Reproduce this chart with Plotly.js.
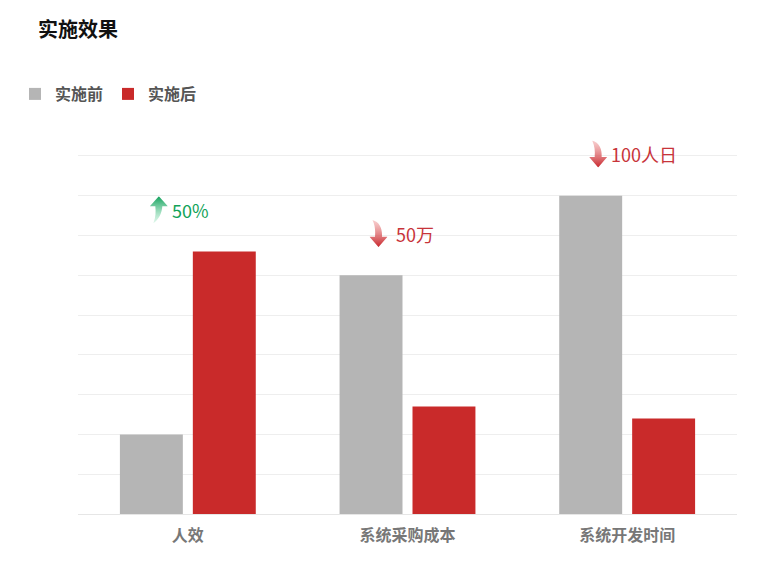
<!DOCTYPE html>
<html>
<head>
<meta charset="utf-8">
<script src="https://cdn.plot.ly/plotly-3.0.1.min.js"></script>
<style>
  html, body { margin: 0; padding: 0; background: #fff; }
  #chart { width: 776px; height: 566px; }
</style>
</head>
<body>
<div id="chart"></div>
<script>
// chart data
const categories = ["人效", "系统采购成本", "系统开发时间"];
const beforeValues = [2, 6, 8];
const afterValues = [6.6, 2.7, 2.4];
const changeLabels = ["50%", "\u00a050万", "100人日"];
const changeUp = [true, false, false];

const FONT = "'Noto Sans CJK SC', 'Microsoft YaHei', sans-serif";
const GREEN = "#12a35a";
const RED = "#c8343a";

const plotLeft = 78, plotRight = 737, plotTop = 154, plotBottom = 514;
const plotW = plotRight - plotLeft;
const plotH = plotBottom - plotTop;
const yMax = 9.05;

function arrowSvg(up) {
    let svg;
    if (up) {
        svg = '<svg xmlns="http://www.w3.org/2000/svg" viewBox="0 0 18 27" width="18" height="27">' +
            '<defs><linearGradient id="g" x1="0" y1="0" x2="0" y2="1">' +
            '<stop offset="0" stop-color="#10a05a"/><stop offset="1" stop-color="#9fe6c2" stop-opacity="0.35"/>' +
            '</linearGradient></defs>' +
            '<path d="M9 0 L18 10 L12.5 10 C12 17 9 23 3.5 27 C6 21 6 15 5.5 10 L0 10 Z" fill="url(#g)"/></svg>';
    } else {
        svg = '<svg xmlns="http://www.w3.org/2000/svg" viewBox="0 0 18 26" width="18" height="26">' +
            '<defs><linearGradient id="g" x1="0" y1="0" x2="0" y2="1">' +
            '<stop offset="0" stop-color="#f3b0b0" stop-opacity="0.6"/><stop offset="1" stop-color="#c8262c"/>' +
            '</linearGradient></defs>' +
            '<path d="M3 0 C10 2 13 8 12.5 16 L18 16 L9 26 L0 16 L5.5 16 C6 10 5.5 5 3 0 Z" fill="url(#g)"/></svg>';
    }
    return "data:image/svg+xml;charset=utf-8," + encodeURIComponent(svg);
}

const data = [
    {
        type: "bar",
        name: "实施前",
        x: categories,
        y: beforeValues,
        marker: { color: "#b5b5b5" },
        hoverinfo: "x+y",
    },
    {
        type: "bar",
        name: "实施后",
        x: categories,
        y: afterValues,
        marker: { color: "#c92a2a" },
        hoverinfo: "x+y",
    },
];

const annotations = [];
const images = [];
categories.forEach((cat, i) => {
    const top = Math.max(beforeValues[i], afterValues[i]) + 1.05;
    const center = (i + 0.5) / 3;
    annotations.push({
        xref: "paper",
        yref: "y",
        x: center,
        y: top,
        xshift: -18,
        xanchor: "left",
        yanchor: "middle",
        showarrow: false,
        text: changeLabels[i],
        font: { family: FONT, size: 18, color: changeUp[i] ? GREEN : RED },
    });
    images.push({
        source: arrowSvg(changeUp[i]),
        xref: "paper",
        yref: "paper",
        x: center - 20 / plotW,
        y: top / yMax,
        sizex: 18 / plotW,
        sizey: 27 / plotH,
        xanchor: "right",
        yanchor: "middle",
        sizing: "stretch",
        layer: "above",
    });
});

const layout = {
    width: 776,
    height: 566,
    margin: { l: plotLeft, r: 776 - plotRight, t: plotTop, b: 566 - plotBottom },
    paper_bgcolor: "#ffffff",
    plot_bgcolor: "#ffffff",
    font: { family: FONT, color: "#555" },
    title: {
        text: "<b>实施效果</b>",
        font: { family: FONT, size: 20, color: "#111" },
        xref: "container",
        yref: "container",
        x: 38 / 776,
        xanchor: "left",
        y: 1 - 30 / 566,
        yanchor: "middle",
    },
    showlegend: true,
    legend: {
        orientation: "h",
        x: (15 - plotLeft) / plotW,
        xanchor: "left",
        y: 1 + (plotTop - 94) / plotH,
        yanchor: "middle",
        itemwidth: 30,
        font: { family: FONT, size: 16, color: "#555", weight: "bold" },
        traceorder: "normal",
    },
    barmode: "group",
    bargap: 0.336,
    bargroupgap: 0.137,
    xaxis: {
        type: "category",
        showgrid: false,
        showline: false,
        ticks: "",
        ticklabelstandoff: 10,
        tickfont: { family: FONT, size: 16, color: "#777", weight: "bold" },
        fixedrange: true,
    },
    yaxis: {
        range: [0, yMax],
        dtick: 1,
        showticklabels: false,
        showgrid: true,
        gridcolor: "#eeeeee",
        gridwidth: 1,
        zeroline: true,
        zerolinecolor: "#e6e6e6",
        zerolinewidth: 1,
        showline: false,
        fixedrange: true,
    },
    annotations: annotations,
    images: images,
};

Plotly.newPlot("chart", data, layout, { displayModeBar: false, responsive: false });
</script>
</body>
</html>
